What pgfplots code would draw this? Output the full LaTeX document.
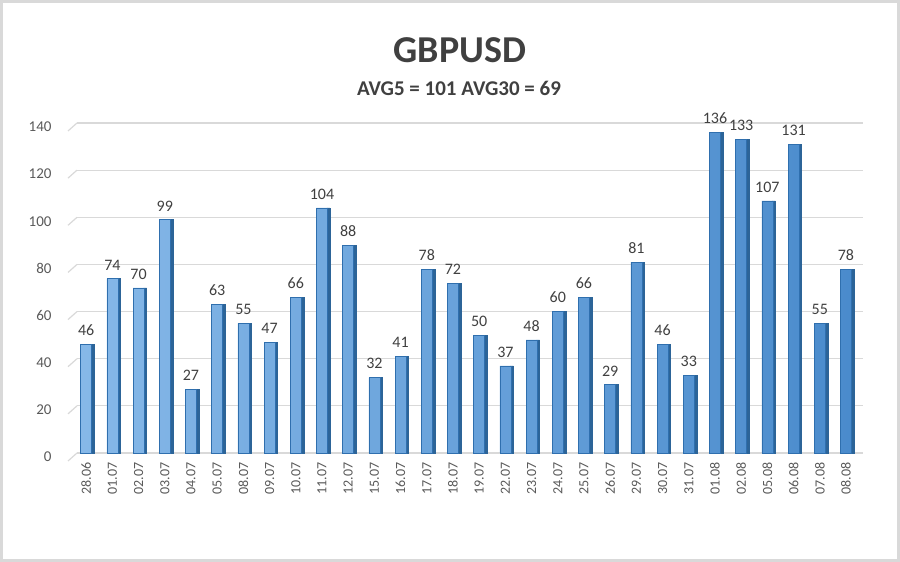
\documentclass[border=0pt]{standalone}
\usepackage{pgfplots}
\pgfplotsset{compat=1.18}
\usepackage{pgfplotstable}
\usepackage{fontspec}
\setmainfont{Carlito}
\definecolor{txt}{HTML}{595959}
\definecolor{ttl}{HTML}{404040}
\definecolor{gridc}{HTML}{D9D9D9}
\definecolor{barL}{HTML}{86B8E8}
\definecolor{barR}{HTML}{4A8BCC}
\definecolor{barS}{HTML}{2C6498}
\definecolor{barE}{HTML}{2F6FAE}

\pgfplotstableread{
x v
0 46
1 74
2 70
3 99
4 27
5 63
6 55
7 47
8 66
9 104
10 88
11 32
12 41
13 78
14 72
15 50
16 37
17 48
18 60
19 66
20 29
21 81
22 46
23 33
24 136
25 133
26 107
27 131
28 55
29 78
}\gbp

\begin{document}
\begin{tikzpicture}[x=1pt,y=1pt]
\useasboundingbox (0,0) rectangle (900,562);
\draw[gridc, line width=3pt] (1.5,1.5) rectangle (898.5,560.5);
\node[ttl, font=\fontsize{38}{40}\selectfont\bfseries] at (460,512) {GBPUSD};
\node[ttl, font=\fontsize{21}{23}\selectfont\bfseries] at (459,474) {AVG5 = 101 AVG30 = 69};
\begin{axis}[
  at={(77pt,109pt)}, anchor=south west,
  scale only axis, width=786pt, height=330pt,
  xmin=-0.35, xmax=29.65, ymin=0, ymax=140,
  ytick={0,20,...,140},
  xtick=data,
  xticklabels={28.06,01.07,02.07,03.07,04.07,05.07,08.07,09.07,10.07,11.07,12.07,15.07,16.07,17.07,18.07,19.07,22.07,23.07,24.07,25.07,26.07,29.07,30.07,31.07,01.08,02.08,05.08,06.08,07.08,08.08},
  x tick label style={rotate=90, anchor=east, font=\fontsize{14}{16}\selectfont, text=txt, xshift=-6pt},
  y tick label style={font=\fontsize{15}{17}\selectfont, text=txt, xshift=-22pt, yshift=-4pt},
  /pgf/number format/assume math mode=true,
  ymajorgrids, grid style={gridc, line width=1.2pt},
  axis line style={draw=none},
  major tick length=0pt,
  ybar,
  clip=false,
]
\pgfplotsinvokeforeach{0,20,...,140}{
  \draw[gridc, line width=1.2pt] (axis cs:-0.35,#1) -- ++(-9pt,-8pt);
}
\addplot[draw=barS, fill=barS, bar width=3pt, bar shift=6.5pt] table[x=x,y=v]{\gbp};
\addplot[draw=barE, line width=0.4pt, left color=barL, right color=barR, bar width=11pt, bar shift=0pt,
  nodes near coords, every node near coord/.append style={font=\fontsize{16}{18}\selectfont, text=ttl, yshift=5pt}]
  table[x=x,y=v]{\gbp};
\end{axis}
\end{tikzpicture}
\end{document}
